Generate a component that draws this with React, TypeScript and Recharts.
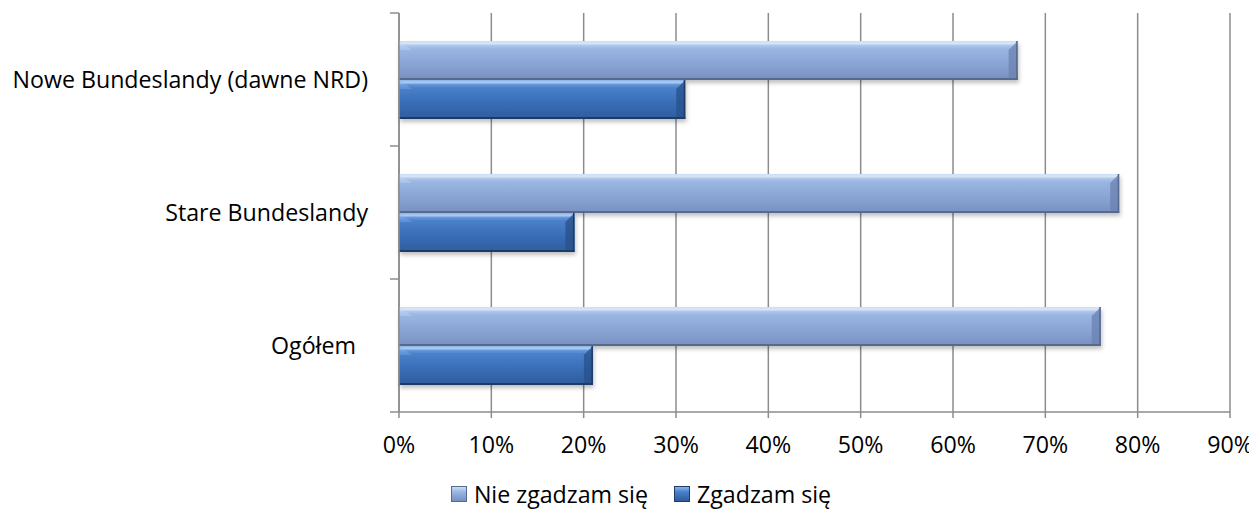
import React from "react";
import {
  BarChart,
  Bar,
  XAxis,
  YAxis,
  CartesianGrid,
  Legend,
} from "recharts";

const categories = ["Nowe Bundeslandy (dawne NRD)", "Stare Bundeslandy", "Ogółem\u00a0\u00a0"];
const nieZgadzam = [67, 78, 76];
const zgadzam = [31, 19, 21];
const xTicks = [0, 10, 20, 30, 40, 50, 60, 70, 80, 90];

const seriesNames = ["Nie zgadzam się", "Zgadzam się"];

const data = categories.map((name, i) => ({
  name,
  nie: nieZgadzam[i],
  tak: zgadzam[i],
}));

const FONT = "'Open Sans', sans-serif";
const FONT_SIZE = 23.2;
const AXIS_GRAY = "#8c8c8c";

const palettes = {
  light: { top: "#c9ddf7", a: "#9ab6e2", b: "#8ba6d6", c: "#7890c0", edge: "#56698f", bevel: "#6b82b0" },
  dark: { top: "#86b4ee", a: "#4a80ca", b: "#3a6fb8", c: "#2e5c9d", edge: "#1f3b66", bevel: "#28508a" },
};

function BevelBar(props: any) {
  const { x, y, width, height, tone } = props;
  if (!width || width <= 0) return null;
  const p = tone === "dark" ? palettes.dark : palettes.light;
  const id = `grad-${tone}`;
  const b = Math.min(9, width / 2);
  return (
    <g filter="url(#barShadow)">
      <rect x={x} y={y} width={width} height={height} fill={`url(#${id})`} />
      <rect x={x} y={y} width={width} height={5} fill={`url(#${id}-hi)`} />
      <polygon
        points={`${x + width - b},${y + b} ${x + width},${y} ${x + width},${y + height} ${x + width - b},${y + height - 2}`}
        fill={p.bevel}
        opacity={0.75}
      />
      <polygon
        points={`${x},${y} ${x + b + 4},${y + b} ${x},${y + b}`}
        fill={p.top}
        opacity={0.35}
      />
      <rect x={x} y={y + height - 2} width={width} height={2} fill={p.edge} />
      <rect x={x + width - 1.5} y={y} width={1.5} height={height} fill={p.edge} />
    </g>
  );
}

function CategoryTick(props: any) {
  const { y, payload, index, visibleTicksCount } = props;
  const off = payload && payload.offset ? payload.offset : 66.5;
  const axisX = 391;
  return (
    <g>
      <line x1={axisX - 9} x2={axisX} y1={y - off} y2={y - off} stroke={AXIS_GRAY} strokeWidth={1.5} />
      {index === visibleTicksCount - 1 && (
        <line x1={axisX - 9} x2={axisX} y1={y + off} y2={y + off} stroke={AXIS_GRAY} strokeWidth={1.5} />
      )}
      <text
        x={360}
        y={y}
        dy="0.35em"
        textAnchor="end"
        fill="#000"
        fontSize={FONT_SIZE}
        fontFamily={FONT}
        style={{ whiteSpace: "pre" }}
      >
        {payload.value}
      </text>
    </g>
  );
}

function LegendContent() {
  const items = [
    { label: seriesNames[0], tone: "light" },
    { label: seriesNames[1], tone: "dark" },
  ];
  return (
    <div
      style={{
        height: 43,
        display: "flex",
        alignItems: "center",
        justifyContent: "center",
        paddingLeft: 44,
        fontFamily: FONT,
        fontSize: FONT_SIZE,
        color: "#000",
      }}
    >
      {items.map((it, i) => {
        const p = it.tone === "dark" ? palettes.dark : palettes.light;
        return (
          <span key={it.label} style={{ display: "flex", alignItems: "center", marginLeft: i ? 26 : 0 }}>
            <span
              style={{
                width: 14,
                height: 14,
                marginRight: 7,
                border: `1px solid ${p.edge}`,
                background: `linear-gradient(${p.top}, ${p.a} 35%, ${p.c})`,
              }}
            />
            {it.label}
          </span>
        );
      })}
    </div>
  );
}

export default function App() {
  return (
    <BarChart
      width={1249}
      height={507}
      data={data}
      layout="vertical"
      margin={{ top: 5, right: 27, left: 0, bottom: 0 }}
      barCategoryGap={28}
      barGap={0}
    >
      <defs>
        {(["light", "dark"] as const).map((tone) => {
          const p = palettes[tone];
          return (
            <React.Fragment key={tone}>
              <linearGradient id={`grad-${tone}`} x1="0" y1="0" x2="0" y2="1">
                <stop offset="0%" stopColor={p.top} />
                <stop offset="20%" stopColor={p.a} />
                <stop offset="55%" stopColor={p.b} />
                <stop offset="100%" stopColor={p.c} />
              </linearGradient>
              <linearGradient id={`grad-${tone}-hi`} x1="0" y1="0" x2="0" y2="1">
                <stop offset="0%" stopColor={p.top} stopOpacity={0.6} />
                <stop offset="60%" stopColor="#ffffff" stopOpacity={0.45} />
                <stop offset="100%" stopColor={p.a} stopOpacity={0} />
              </linearGradient>
            </React.Fragment>
          );
        })}
        <filter id="barShadow" x="-5%" y="-20%" width="110%" height="150%">
          <feDropShadow dx="1" dy="3" stdDeviation="2" floodColor="#000" floodOpacity="0.25" />
        </filter>
      </defs>
      <CartesianGrid horizontal={false} stroke={AXIS_GRAY} strokeWidth={1.5} />
      <XAxis
        type="number"
        domain={[0, 90]}
        ticks={xTicks}
        interval={0}
        tickFormatter={(v: number) => `${v}%`}
        height={60}
        tickSize={6}
        tickMargin={19}
        stroke={AXIS_GRAY}
        strokeWidth={1.5}
        tick={{ fill: "#000", fontSize: FONT_SIZE, fontFamily: FONT }}
      />
      <YAxis
        type="category"
        dataKey="name"
        width={391}
        tickLine={false}
        tickSize={0}
        tick={(p: any) => <CategoryTick {...p} />}
        stroke={AXIS_GRAY}
        strokeWidth={1.5}
      />
      <Legend verticalAlign="bottom" content={() => <LegendContent />} />
      <Bar
        dataKey="nie"
        name={seriesNames[0]}
        isAnimationActive={false}
        shape={(p: any) => <BevelBar {...p} tone="light" />}
      />
      <Bar
        dataKey="tak"
        name={seriesNames[1]}
        isAnimationActive={false}
        shape={(p: any) => <BevelBar {...p} tone="dark" />}
      />
    </BarChart>
  );
}
